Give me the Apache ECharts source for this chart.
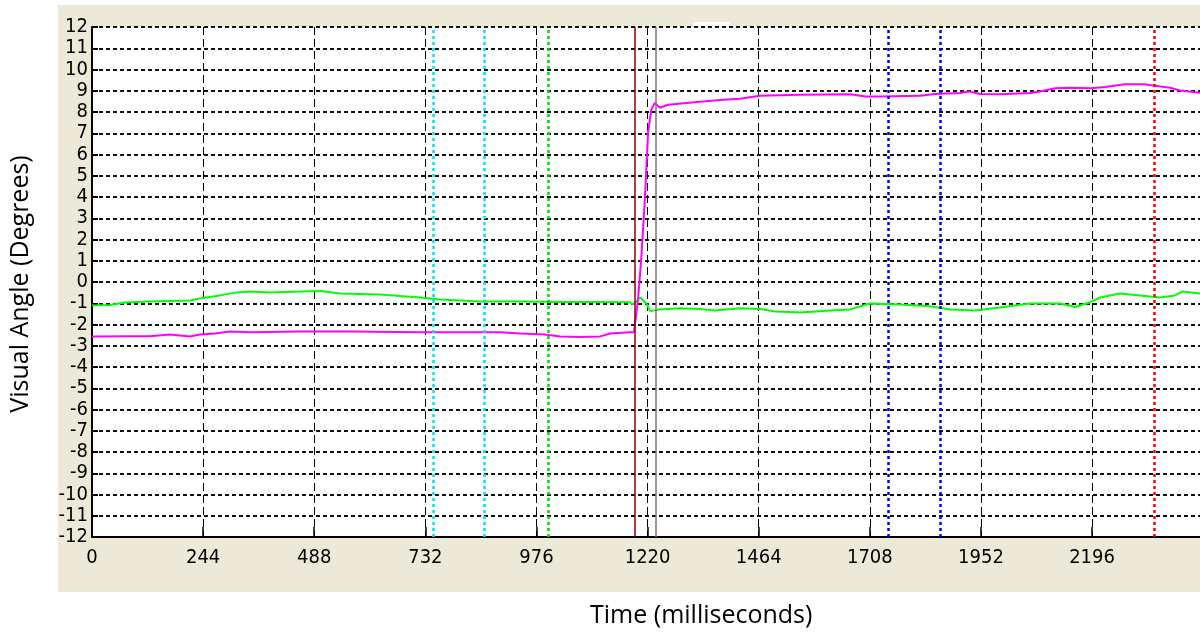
<!DOCTYPE html>
<html>
<head>
<meta charset="utf-8">
<script src="https://cdn.jsdelivr.net/npm/echarts@6/dist/echarts.min.js"></script>
<style>
html, body { margin: 0; padding: 0; background: #fff; }
#chart { width: 1200px; height: 637px; }
</style>
</head>
<body>
<div id="chart"></div>
<script>
// eye trace, vertical component (green)
var timeGreen = [0, 40, 72, 127, 215, 237, 281, 314, 347, 391, 457, 501, 545, 632, 720, 764, 852, 940, 1028, 1116,
    1181, 1188, 1204, 1217, 1226, 1247, 1291, 1335, 1368, 1423, 1467, 1500, 1555, 1621, 1665, 1708, 1774, 1840,
    1884, 1939, 1994, 2060, 2126, 2159, 2192, 2214, 2257, 2301, 2345, 2378, 2394, 2433];
var angleGreen = [-1.10, -1.08, -0.96, -0.92, -0.87, -0.78, -0.63, -0.50, -0.45, -0.49, -0.45, -0.42, -0.54, -0.59, -0.73, -0.82, -0.92, -0.92, -0.94, -0.94,
    -0.95, -1.06, -0.73, -1.01, -1.37, -1.29, -1.24, -1.27, -1.34, -1.24, -1.27, -1.39, -1.43, -1.34, -1.29, -1.01, -1.06, -1.14,
    -1.29, -1.34, -1.20, -1.01, -1.01, -1.18, -0.95, -0.73, -0.54, -0.63, -0.73, -0.63, -0.45, -0.54];

// eye trace, horizontal component (magenta)
var timeMagenta = [0, 83, 127, 171, 215, 237, 270, 303, 347, 457, 567, 720, 896, 940, 995, 1028, 1072, 1116, 1138, 1181,
    1190, 1199, 1206, 1214, 1221, 1228, 1236, 1247, 1265, 1335, 1379, 1423, 1467, 1555, 1665, 1698, 1730, 1818,
    1851, 1906, 1928, 1950, 1994, 2060, 2082, 2115, 2148, 2192, 2225, 2268, 2312, 2334, 2367, 2389, 2433];
var angleMagenta = [-2.57, -2.55, -2.55, -2.47, -2.56, -2.47, -2.42, -2.33, -2.37, -2.33, -2.33, -2.37, -2.37, -2.42, -2.47, -2.56, -2.59, -2.56, -2.42, -2.37,
    -2.37, -0.82, 1.06, 3.88, 7.02, 8.10, 8.43, 8.20, 8.34, 8.48, 8.57, 8.62, 8.76, 8.81, 8.84, 8.73, 8.73, 8.76,
    8.85, 8.89, 8.96, 8.85, 8.84, 8.89, 8.96, 9.12, 9.14, 9.12, 9.18, 9.31, 9.31, 9.23, 9.14, 9.01, 8.90];

// event markers (ms)
var markerTimes = [749, 861, 1001, 1192, 1238, 1748, 1862, 2332];
var markerColors = ['#00e5ee', '#00e5ee', '#00dd00', '#8b0000', '#8f6f6f', '#0000ff', '#0000ff', '#ff0000'];
var markerSolid = [false, false, false, true, true, false, false, false];

var xMax = 2433;
var xStep = 244;

function zip(a, b) {
    var out = [];
    for (var i = 0; i < a.length; i++) out.push([a[i], b[i]]);
    return out;
}

var markLines = markerTimes.map(function (t, i) {
    return {
        xAxis: t,
        lineStyle: {
            color: markerColors[i],
            width: markerSolid[i] ? 1.5 : 2.5,
            type: markerSolid[i] ? 'solid' : [3, 3]
        }
    };
});

var tickFont = "'Liberation Sans Narrow','DejaVu Sans Condensed',sans-serif";

var chart = echarts.init(document.getElementById('chart'));
var option = {
    animation: false,
    backgroundColor: '#fff',
    graphic: [
        { type: 'rect', z: -10, shape: { x: 58, y: 5, width: 1142, height: 587 }, style: { fill: '#ece9d8' } },
        { type: 'rect', z: -9, shape: { x: 693, y: 22, width: 37, height: 4 }, style: { fill: '#fff' } },
        {
            type: 'text', left: 590, top: 603,
            style: { text: 'Time (milliseconds)', font: "25px 'Open Sans', sans-serif", fill: '#000' }
        },
        {
            type: 'text', x: 8, y: 284, rotation: Math.PI / 2,
            style: {
                text: 'Visual Angle (Degrees)', font: "25px 'Open Sans', sans-serif", fill: '#000',
                align: 'center', verticalAlign: 'top'
            }
        }
    ],
    grid: {
        left: 92, right: 0, top: 27, bottom: 100,
        show: true, backgroundColor: '#fff', borderWidth: 0
    },
    xAxis: {
        type: 'value',
        min: 0,
        max: xMax,
        interval: xStep,
        axisLine: { show: true, onZero: false, lineStyle: { color: '#000', width: 2 } },
        axisTick: { show: true, inside: true, length: 10, lineStyle: { color: '#000', width: 1.5 } },
        axisLabel: {
            color: '#000', fontFamily: tickFont, fontSize: 20, margin: 11, showMaxLabel: false,
            formatter: function (v) { return String(v); }
        },
        splitLine: { show: true, lineStyle: { color: '#000', width: 1, type: [8, 4] } }
    },
    yAxis: {
        type: 'value',
        min: -12,
        max: 12,
        interval: 1,
        axisLine: { show: true, onZero: false, lineStyle: { color: '#000', width: 2 } },
        axisTick: { show: true, inside: true, length: 6, lineStyle: { color: '#000', width: 2 } },
        axisLabel: { color: '#000', fontFamily: tickFont, fontSize: 20, margin: 4, interval: 0 },
        splitLine: { show: true, lineStyle: { color: '#111', width: 2, type: [4, 3] } }
    },
    series: [
        {
            name: 'markers',
            type: 'line',
            data: [],
            silent: true,
            markLine: {
                silent: true,
                symbol: ['none', 'none'],
                label: { show: false },
                animation: false,
                data: markLines
            }
        },
        {
            name: 'vertical',
            type: 'line',
            data: zip(timeGreen, angleGreen),
            showSymbol: false,
            lineStyle: { color: '#00ff00', width: 2 }
        },
        {
            name: 'horizontal',
            type: 'line',
            data: zip(timeMagenta, angleMagenta),
            showSymbol: false,
            lineStyle: { color: '#ff00ff', width: 2 }
        }
    ]
};
chart.setOption(option);
</script>
</body>
</html>
